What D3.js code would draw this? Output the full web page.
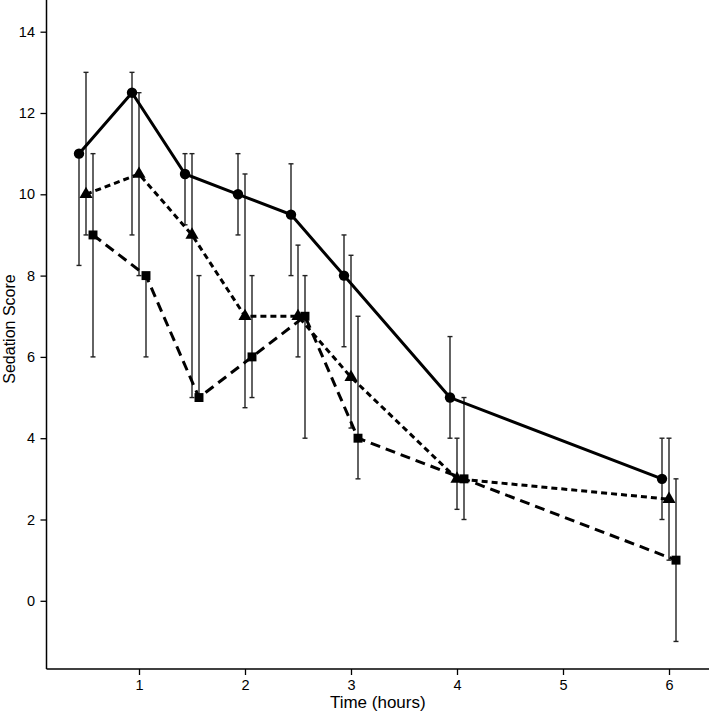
<!DOCTYPE html>
<html><head><meta charset="utf-8">
<script src="https://cdn.jsdelivr.net/npm/d3@7"></script>
<style>body{margin:0;background:#fff}svg{display:block}text{font-family:"Liberation Sans",Arial,Helvetica,sans-serif;fill:#000}</style>
</head><body>
<script>
// Data
const times = [0.5, 1, 1.5, 2, 2.5, 3, 4, 6];
const seriesNames = ["A", "B", "C"];
const meanA = [11, 12.5, 10.5, 10, 9.5, 8, 5, 3];
const lowA  = [8.25, 9, 9.25, 9, 8, 6.25, 4, 2];
const highA = [11, 13, 11, 11, 10.75, 9, 6.5, 4];
const meanB = [10, 10.5, 9, 7, 7, 5.5, 3, 2.5];
const lowB  = [9, 8, 5, 4.75, 6, 4.25, 2.25, 1];
const highB = [13, 12.5, 11, 10.5, 8.75, 8.5, 4, 4];
const meanC = [9, 8, 5, 6, 7, 4, 3, 1];
const lowC  = [6, 6, 5, 5, 4, 3, 2, -1];
const highC = [11, 8, 8, 8, 8, 7, 5, 3];
const xTicks = [1, 2, 3, 4, 5, 6];
const yTicks = [0, 2, 4, 6, 8, 10, 12, 14];

const W = 709, H = 714;
const svg = d3.select("body").append("svg").attr("width", W).attr("height", H);

const x = d3.scaleLinear().domain([0, 6]).range([33, 669]);
const y = d3.scaleLinear().domain([0, 14]).range([600.8, 31.7]);
const axisX0 = 46.5, axisY0 = 669;

const series = [
  {mean: meanA, low: lowA, high: highA, dash: null, shape: d3.symbolCircle, size: 85, dx: -7},
  {mean: meanB, low: lowB, high: highB, dash: "6,4", shape: d3.symbolTriangle, size: 75, dx: 0},
  {mean: meanC, low: lowC, high: highC, dash: "10,6", shape: d3.symbolSquare, size: 80, dx: 7}
];

// Axes
const xAxis = svg.append("g").attr("transform", `translate(0,${axisY0})`)
  .call(d3.axisBottom(x).tickValues(xTicks).tickFormat(d3.format("d")).tickSize(6).tickPadding(5));
xAxis.select(".domain").remove();
xAxis.append("line").attr("x1", axisX0).attr("x2", W).attr("y1", 0).attr("y2", 0)
  .attr("stroke", "#000").attr("stroke-width", 1.5);
xAxis.selectAll(".tick line").attr("stroke-width", 1.3);
xAxis.selectAll(".tick text").attr("font-size", 14.5).style("font-family", "Liberation Sans, Arial, sans-serif");

const yAxis = svg.append("g").attr("transform", `translate(${axisX0},0)`)
  .call(d3.axisLeft(y).tickValues(yTicks).tickFormat(d3.format("d")).tickSize(6).tickPadding(5.5));
yAxis.select(".domain").remove();
yAxis.append("line").attr("x1", 0).attr("x2", 0).attr("y1", 0).attr("y2", axisY0)
  .attr("stroke", "#000").attr("stroke-width", 1.5);
yAxis.selectAll(".tick line").attr("stroke-width", 1.3);
yAxis.selectAll(".tick text").attr("font-size", 14.5).style("font-family", "Liberation Sans, Arial, sans-serif");

svg.append("text").attr("x", (axisX0 + W) / 2).attr("y", 708).attr("text-anchor", "middle")
  .attr("font-size", 17).text("Time (hours)");
svg.append("text").attr("transform", `translate(15,329) rotate(-90)`).attr("text-anchor", "middle")
  .attr("font-size", 16).text("Sedation Score");

const plot = svg.append("g");

// Error bars
series.forEach(s => {
  const g = plot.append("g");
  times.forEach((t, i) => {
    const cx = x(t) + s.dx;
    g.append("line").attr("x1", cx).attr("x2", cx).attr("y1", y(s.low[i])).attr("y2", y(s.high[i]))
      .attr("stroke", "#222").attr("stroke-width", 1.4);
    [s.low[i], s.high[i]].forEach(v => {
      g.append("line").attr("x1", cx - 2.5).attr("x2", cx + 2.5).attr("y1", y(v)).attr("y2", y(v))
        .attr("stroke", "#222").attr("stroke-width", 1.4);
    });
  });
});

// Lines and markers
series.forEach(s => {
  const line = d3.line().x((d, i) => x(times[i]) + s.dx).y(d => y(d));
  plot.append("path").datum(s.mean).attr("d", line).attr("fill", "none")
    .attr("stroke", "#000").attr("stroke-width", 3)
    .attr("stroke-dasharray", s.dash);
  plot.selectAll(null).data(s.mean).enter().append("path")
    .attr("d", d3.symbol().type(s.shape).size(s.size))
    .attr("transform", (d, i) => `translate(${x(times[i]) + s.dx},${y(d)})`)
    .attr("fill", "#000");
});
</script>
</body></html>
